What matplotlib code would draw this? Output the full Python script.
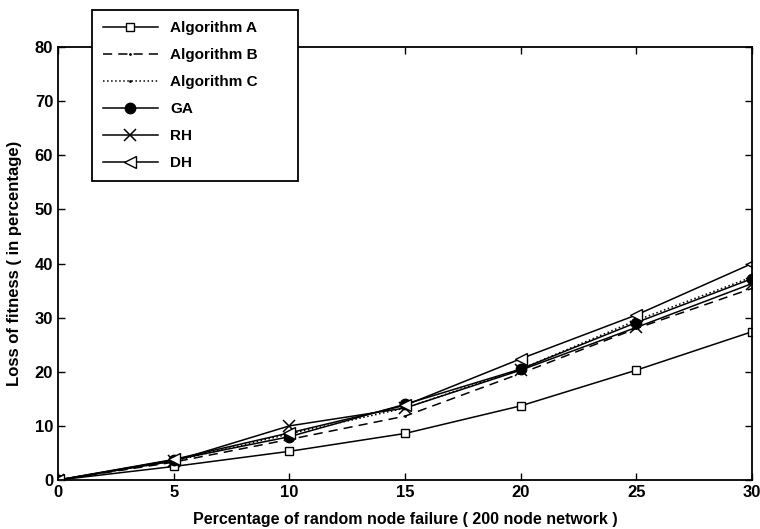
import matplotlib
matplotlib.use("Agg")
import matplotlib.pyplot as plt

plt.rcParams['font.family'] = ['Liberation Sans', 'DejaVu Sans']
plt.rcParams['font.weight'] = 'bold'

failure = [0, 5, 10, 15, 20, 25, 30]
algo_a = [0, 2.5, 5.3, 8.6, 13.7, 20.3, 27.4]
algo_b = [0, 3.3, 7.5, 11.8, 19.7, 28.0, 35.4]
algo_c = [0, 3.5, 8.5, 13.3, 20.5, 29.5, 37.5]
ga = [0, 3.7, 8.0, 14.0, 20.5, 29.1, 37.2]
rh = [0, 3.5, 10.0, 13.3, 20.3, 28.2, 36.3]
dh = [0, 3.8, 8.7, 13.8, 22.4, 30.5, 40.0]

fig = plt.figure(figsize=(7.6, 5.29), dpi=100)
ax = fig.add_axes([0.0763, 0.0926, 0.9132, 0.8184])

ax.plot(failure, algo_a, 'k-', marker='s', mfc='white', ms=6, lw=1.1, label='Algorithm A')
ax.plot(failure, algo_b, 'k--', marker='.', ms=2, lw=1.1, dashes=(6, 4), label='Algorithm B')
ax.plot(failure, algo_c, 'k:', marker='.', ms=2, lw=1.1, label='Algorithm C')
ax.plot(failure, ga, 'k-', marker='o', ms=7.5, lw=1.1, label='GA')
ax.plot(failure, rh, 'k-', marker='x', ms=8, mew=1.1, lw=1.1, label='RH')
ax.plot(failure, dh, 'k-', marker='<', mfc='white', ms=8, lw=1.1, label='DH')

ax.set_xlim(0, 30)
ax.set_ylim(0, 80)
ax.set_xticks(failure)
ax.set_yticks(range(0, 81, 10))
ax.tick_params(direction='in', length=5, width=1, labelsize=12, top=True, right=True)
for s in ax.spines.values():
    s.set_linewidth(1.3)
ax.set_xlabel('Percentage of random node failure ( 200 node network )', fontsize=11.5,
              fontweight='bold', labelpad=9)
ax.set_ylabel('Loss of fitness ( in percentage)', fontsize=12, fontweight='bold', labelpad=9)

leg = ax.legend(loc='upper left', bbox_to_anchor=(0.049, 0.697, 0.297, 0.388), mode='expand',
                borderaxespad=0, fancybox=False, framealpha=1, edgecolor='black', fontsize=11,
                handlelength=3.6, labelspacing=0.85, borderpad=0.7)
leg.get_frame().set_linewidth(1.3)

fig.savefig('out.png', dpi=100)
